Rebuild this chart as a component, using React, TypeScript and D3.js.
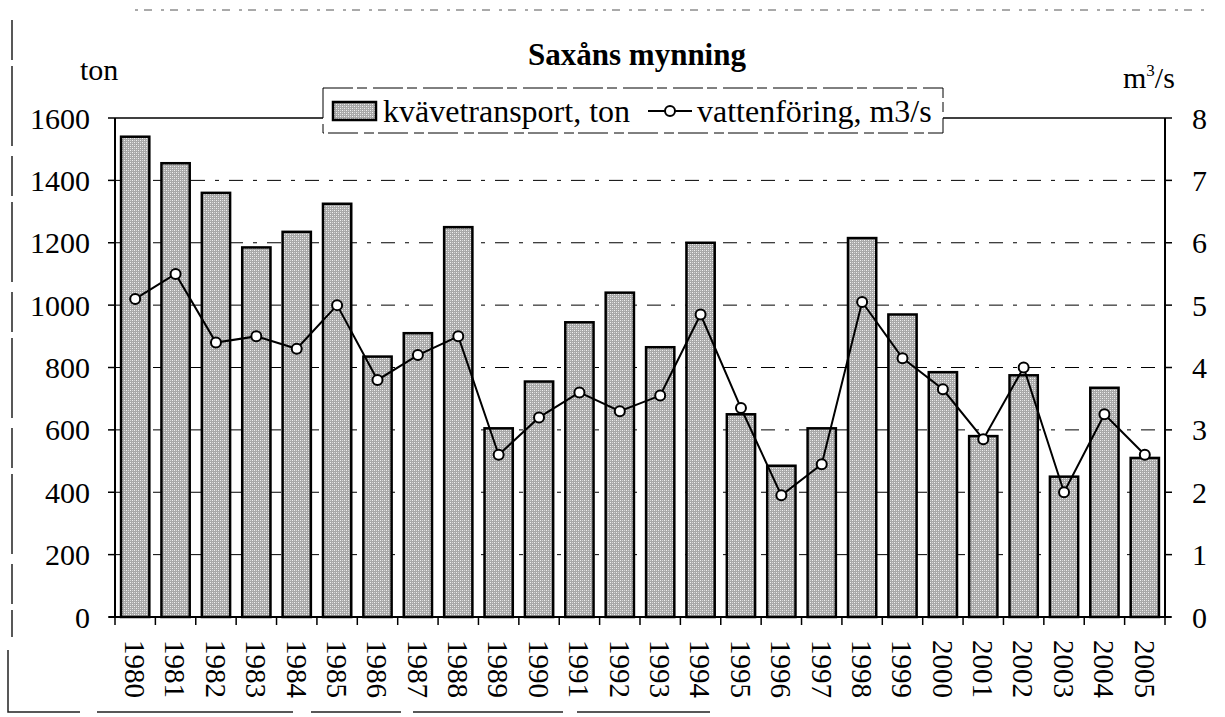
import React from "react";
import * as d3 from "d3";

const years = ["1980","1981","1982","1983","1984","1985","1986","1987","1988","1989","1990","1991","1992","1993","1994","1995","1996","1997","1998","1999","2000","2001","2002","2003","2004","2005"];
const nitrogen = [1540,1455,1360,1185,1235,1325,835,910,1250,605,755,945,1040,865,1200,650,485,605,1215,970,785,580,775,450,735,510];
const flow = [5.1,5.5,4.4,4.5,4.3,5.0,3.8,4.2,4.5,2.6,3.2,3.6,3.3,3.55,4.85,3.35,1.95,2.45,5.05,4.15,3.65,2.85,4.0,2.0,3.25,2.6];
const leftTicks = [0,200,400,600,800,1000,1200,1400,1600];
const rightTicks = [0,1,2,3,4,5,6,7,8];

export default function App() {
  const W = 1225, H = 717;
  const L = 115, R = 1165, T = 118, B = 617;
  const x = d3.scaleBand<string>().domain(years).range([L, R]).paddingInner(0.3).paddingOuter(0.15);
  const xb = d3.scaleBand<string>().domain(years).range([L, R]);
  const yL = d3.scaleLinear().domain([0, 1600]).range([B, T]);
  const yR = d3.scaleLinear().domain([0, 8]).range([B, T]);
  const line = d3.line<number>().x((_, i) => xb(years[i])! + xb.bandwidth() / 2).y(d => yR(d));
  const font = "Liberation Serif, DejaVu Serif, serif";
  return (
    <svg width={W} height={H} style={{ position: "absolute", left: 0, top: 0, fontFamily: font }}>
      <defs>
        <pattern id="stip" width="4" height="4" patternUnits="userSpaceOnUse">
          <rect width="4" height="4" fill="#a8a8a8" />
          <rect x="0" y="0" width="1" height="1" fill="#f2f2f2" />
          <rect x="2" y="2" width="1" height="1" fill="#f2f2f2" />
          <rect x="2" y="0" width="1" height="1" fill="#d4d4d4" />
          <rect x="0" y="2" width="1" height="1" fill="#d4d4d4" />
        </pattern>
      </defs>
      <rect width={W} height={H} fill="#fff" />
      <path d={`M12,20 V637`} stroke="#222" strokeWidth={1.5} fill="none" strokeDasharray="40 6 80 10" />
      <path d={`M8,650 V712 H80`} stroke="#222" strokeWidth={1.5} fill="none" />
      <path d={`M97,712 H710`} stroke="#222" strokeWidth={1.5} fill="none" strokeDasharray="196 18 90 12 150 14" />
      <path d={`M135,10 H1210`} stroke="#555" strokeWidth={1} fill="none" strokeDasharray="3 6 8 9" />
      {leftTicks.filter(t => t > 0).map(t => (
        <line key={t} x1={L} x2={R} y1={yL(t)} y2={yL(t)} stroke="#000" strokeWidth={t === 1600 ? 1.5 : 1}
          strokeDasharray={t === 1600 ? undefined : "14 10 4 10"} />
      ))}
      {years.map((yr, i) => (
        <rect key={yr} x={x(yr)} y={yL(nitrogen[i])} width={x.bandwidth()} height={B - yL(nitrogen[i])}
          fill="url(#stip)" stroke="#000" strokeWidth={2.5} />
      ))}
      <line x1={L} x2={L} y1={T} y2={B} stroke="#000" strokeWidth={2} />
      <line x1={R} x2={R} y1={T} y2={B} stroke="#000" strokeWidth={2} />
      <line x1={L - 6} x2={R + 6} y1={B} y2={B} stroke="#000" strokeWidth={2} />
      {leftTicks.map(t => (
        <g key={"l" + t}>
          <line x1={L - 7} x2={L} y1={yL(t)} y2={yL(t)} stroke="#000" strokeWidth={1.5} />
          <text x={L - 25} y={yL(t)} dy="0.35em" textAnchor="end" fontSize={30}>{t}</text>
        </g>
      ))}
      {rightTicks.map(t => (
        <g key={"r" + t}>
          <line x1={R} x2={R + 7} y1={yR(t)} y2={yR(t)} stroke="#000" strokeWidth={1.5} />
          <text x={R + 27} y={yR(t)} dy="0.35em" textAnchor="start" fontSize={30}>{t}</text>
        </g>
      ))}
      {years.map(yr => (
        <g key={"t" + yr}>
          <line x1={xb(yr)!} x2={xb(yr)!} y1={B} y2={B + 8} stroke="#000" strokeWidth={1.5} />
          <text transform={`translate(${xb(yr)! + xb.bandwidth() / 2},${B + 23}) rotate(90)`} dy="0.35em"
            textAnchor="start" fontSize={29}>{yr}</text>
        </g>
      ))}
      <line x1={R} x2={R} y1={B} y2={B + 8} stroke="#000" strokeWidth={1.5} />
      <path d={line(flow)!} fill="none" stroke="#000" strokeWidth={2} />
      {flow.map((v, i) => (
        <circle key={"c" + i} cx={xb(years[i])! + xb.bandwidth() / 2} cy={yR(v)} r={5} fill="#fff" stroke="#000" strokeWidth={2} />
      ))}
      <text x={637} y={65} textAnchor="middle" fontSize={31} fontWeight="bold">Saxåns mynning</text>
      <text x={80} y={80} fontSize={30}>ton</text>
      <text x={1123} y={88} fontSize={30}>m<tspan dy={-12} fontSize={17}>3</tspan><tspan dy={12}>/s</tspan></text>
      <rect x={323} y={88} width={620} height={45} fill="#fff" stroke="#000" strokeWidth={1} strokeDasharray="30 4 10 6" />
      <rect x={333} y={102} width={43} height={18} fill="url(#stip)" stroke="#000" strokeWidth={2.5} />
      <text x={383} y={122} fontSize={32}>kvävetransport, ton</text>
      <line x1={648} x2={692} y1={111} y2={111} stroke="#000" strokeWidth={2} />
      <circle cx={670} cy={111} r={5} fill="#fff" stroke="#000" strokeWidth={2} />
      <text x={697} y={122} fontSize={32}>vattenföring, m3/s</text>
    </svg>
  );
}
